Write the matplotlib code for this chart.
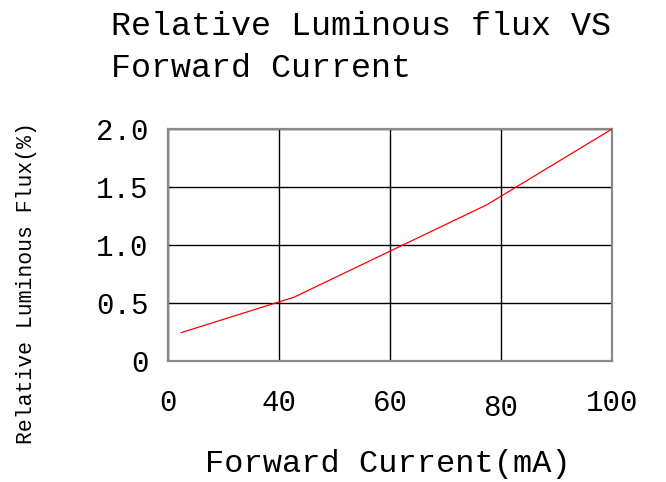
## Relative luminous flux vs forward current
## plot.py

import matplotlib
matplotlib.use("Agg")
import matplotlib.pyplot as plt
import matplotlib.transforms as mtransforms

# ------------------------------- #
# Data
current = [22.4, 42.7, 77.5, 100]
flux = [0.245, 0.55, 1.348, 2.0]

x_ticks = [20, 40, 60, 80, 100]
x_labels = ["0", "40", "60", "80", "100"]
y_ticks = [0, 0.5, 1.0, 1.5, 2.0]
y_labels = ["0", "0.5", "1.0", "1.5", "2.0"]
# ------------------------------- #

W, H = 666, 482
mono = "Liberation Mono"

fig = plt.figure(figsize=(W / 100, H / 100), dpi=100)
ax = fig.add_axes([168 / W, 1 - 361 / H, (612 - 168) / W, (361 - 129) / H])

# Curve
ax.plot(current, flux, color="red", lw=0.9, zorder=3)

# Axes limits and ticks
ax.set_xlim(20, 100)
ax.set_ylim(0, 2.0)
ax.set_xticks(x_ticks)
ax.set_xticklabels(x_labels, fontfamily=mono, fontsize=21)
ax.set_yticks(y_ticks)
ax.set_yticklabels(y_labels, fontfamily=mono, fontsize=21)
ax.tick_params(axis="x", length=0, pad=20)
ax.tick_params(axis="y", length=0, pad=14)

# the "80" label sits a little lower in the reference
lbl80 = ax.get_xticklabels()[3]
lbl80.set_transform(lbl80.get_transform() +
                    mtransforms.ScaledTranslation(0, -5 / 100, fig.dpi_scale_trans))

# Grid and frame
ax.grid(True, color="black", lw=1.0)
ax.set_axisbelow(True)
for s in ax.spines.values():
	s.set_color("#8a8a8a")
	s.set_linewidth(1.6)

# Title (two lines, left aligned)
fig.text(111 / W, 1 - 35 / H, "Relative Luminous flux VS", fontfamily=mono,
         fontsize=24, va="baseline", ha="left")
fig.text(111 / W, 1 - 77 / H, "Forward Current", fontfamily=mono,
         fontsize=24, va="baseline", ha="left")

# Axis labels
fig.text(388 / W, 1 - 472 / H, "Forward Current(mA)", fontfamily=mono,
         fontsize=23, va="baseline", ha="center")
fig.text(27 / W, 1 - 283 / H, "Relative Luminous Flux(%)", fontfamily=mono,
         fontsize=15.5, va="center", ha="center", rotation=90)

fig.savefig("out.png", dpi=100)
